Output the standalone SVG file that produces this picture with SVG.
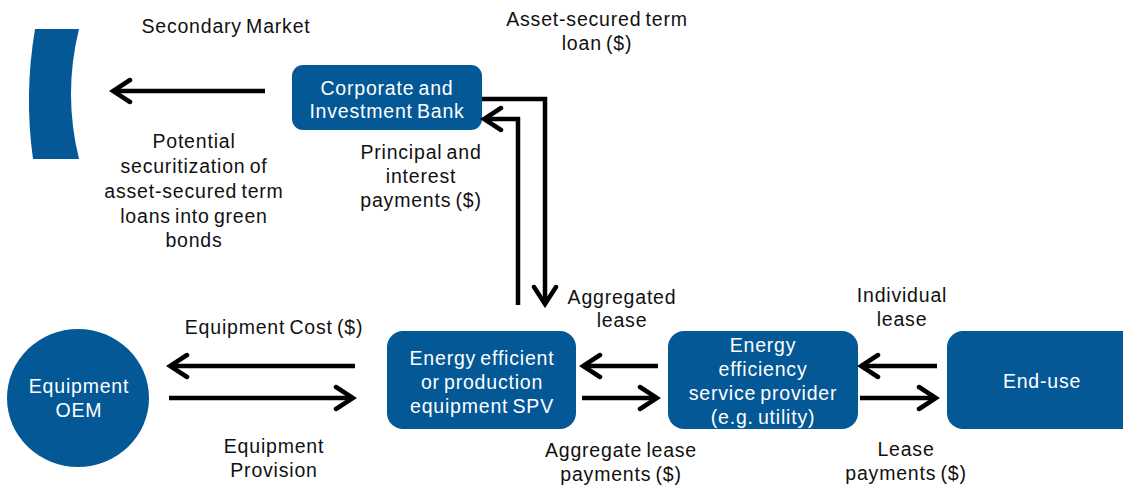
<svg xmlns="http://www.w3.org/2000/svg" width="1123" height="485" viewBox="0 0 1123 485">
<style>
  text { font-family: "Liberation Sans", Arial, sans-serif; font-size: 19.5px; letter-spacing: 0.8px; word-spacing: -2px; text-anchor: middle; }
  .lbl { fill: #111; }
  .nt { fill: #ffffff; }
  .node { fill: #045896; }
  .conn { fill: none; stroke: #000; stroke-width: 4.5; marker-end: url(#arr); }
</style>
<defs>
  <marker id="arr" markerUnits="userSpaceOnUse" viewBox="-24 -14 28 28" markerWidth="28" markerHeight="28" refX="0" refY="0" orient="auto">
    <path d="M-17,-11 L0,0 L-17,11" fill="none" stroke="#000" stroke-width="4.5" stroke-linejoin="miter" stroke-linecap="round"/>
  </marker>
</defs>
<rect width="1123" height="485" fill="#ffffff"/>

<g id="secondary-market">
  <path class="node" d="M35,29 L79,29 Q63,94 79,159 L33,159 Q24,94 35,29 Z"/>
  <text class="lbl" x="226" y="33">Secondary Market</text>
</g>

<g id="cib">
  <rect class="node" x="292" y="65" width="190" height="65" rx="11"/>
  <text class="nt" x="387" y="95">Corporate and</text>
  <text class="nt" x="387" y="118">Investment Bank</text>
</g>

<g id="oem">
  <ellipse class="node" cx="78" cy="398" rx="71" ry="69"/>
  <text class="nt" x="79" y="393">Equipment</text>
  <text class="nt" x="79" y="417">OEM</text>
</g>

<g id="spv">
  <rect class="node" x="387" y="331" width="189" height="98" rx="16"/>
  <text class="nt" x="482" y="365">Energy efficient</text>
  <text class="nt" x="482" y="389">or production</text>
  <text class="nt" x="482" y="413">equipment SPV</text>
</g>

<g id="service-provider">
  <rect class="node" x="668" y="331" width="190" height="98" rx="16"/>
  <text class="nt" x="763" y="352">Energy</text>
  <text class="nt" x="763" y="376">efficiency</text>
  <text class="nt" x="763" y="400">service provider</text>
  <text class="nt" x="763" y="424">(e.g. utility)</text>
</g>

<g id="end-use">
  <rect class="node" x="947" y="331" width="200" height="98" rx="16"/>
  <text class="nt" x="1042" y="388">End-use</text>
</g>

<g id="connectors">
  <path class="conn" d="M265,91 L113,91"/>
  <path class="conn" d="M482,99 L545,99 L545,304"/>
  <path class="conn" d="M518,305 L518,119 L484,119"/>
  <path class="conn" d="M355,366 L170,366"/>
  <path class="conn" d="M169,398 L353,398"/>
  <path class="conn" d="M658,366 L583,366"/>
  <path class="conn" d="M582,398 L657,398"/>
  <path class="conn" d="M937,366 L861,366"/>
  <path class="conn" d="M860,398 L936,398"/>
</g>

<g id="labels">
  <text class="lbl" x="597" y="26">Asset-secured term</text>
  <text class="lbl" x="597" y="50">loan ($)</text>
  <text class="lbl" x="194" y="148">Potential</text>
  <text class="lbl" x="194" y="173">securitization of</text>
  <text class="lbl" x="194" y="198">asset-secured term</text>
  <text class="lbl" x="194" y="223">loans into green</text>
  <text class="lbl" x="194" y="247">bonds</text>
  <text class="lbl" x="421" y="159">Principal and</text>
  <text class="lbl" x="421" y="183">interest</text>
  <text class="lbl" x="421" y="207">payments ($)</text>
  <text class="lbl" x="274" y="334">Equipment Cost ($)</text>
  <text class="lbl" x="274" y="453">Equipment</text>
  <text class="lbl" x="274" y="477">Provision</text>
  <text class="lbl" x="622" y="304">Aggregated</text>
  <text class="lbl" x="622" y="327">lease</text>
  <text class="lbl" x="621" y="457">Aggregate lease</text>
  <text class="lbl" x="621" y="481">payments ($)</text>
  <text class="lbl" x="902" y="302">Individual</text>
  <text class="lbl" x="902" y="326">lease</text>
  <text class="lbl" x="906" y="456">Lease</text>
  <text class="lbl" x="906" y="480">payments ($)</text>
</g>
</svg>
